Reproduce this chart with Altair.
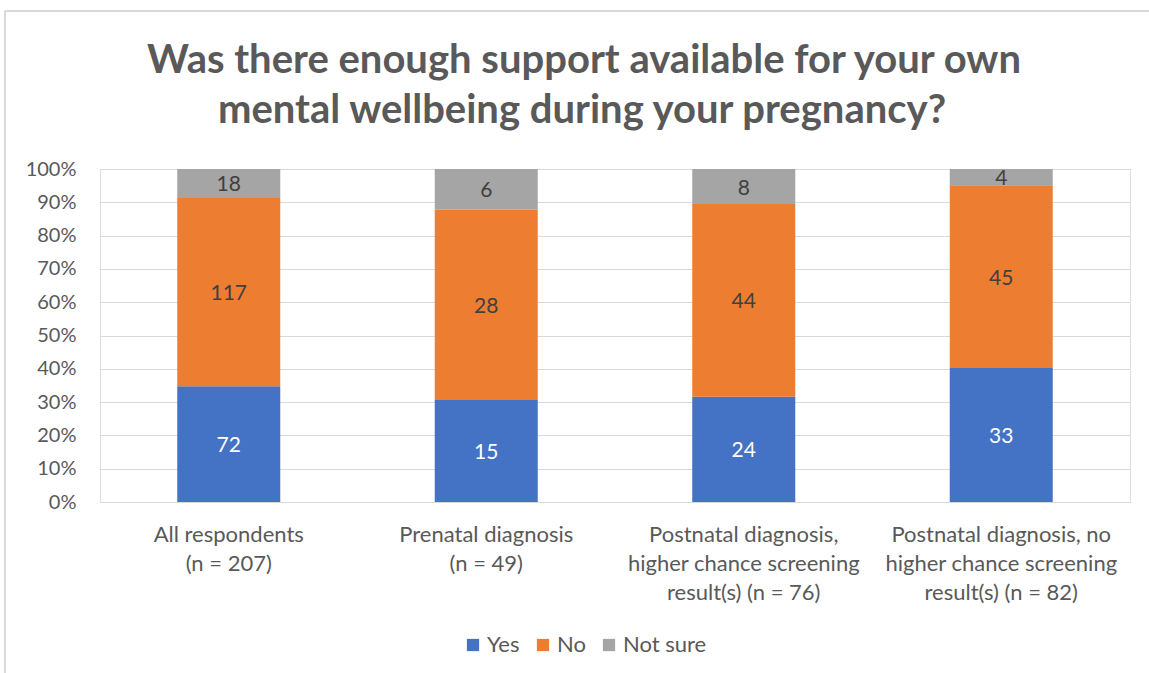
import altair as alt
import pandas as pd

categories = [
    "All respondents\n(n = 207)",
    "Prenatal diagnosis\n(n = 49)",
    "Postnatal diagnosis,\nhigher chance screening\nresult(s) (n = 76)",
    "Postnatal diagnosis, no\nhigher chance screening\nresult(s) (n = 82)",
]
responses = ["Yes", "No", "Not sure"]
yes_counts = [72, 15, 24, 33]
no_counts = [117, 28, 44, 45]
notsure_counts = [18, 6, 8, 4]
colors = ["#4472C4", "#ED7D31", "#A5A5A5"]
label_colors = ["#FFFFFF", "#404040", "#404040"]
title_lines = ["Was there enough support available for your own",
               "mental wellbeing during your pregnancy?"]
y_ticks = [0, 0.1, 0.2, 0.3, 0.4, 0.5, 0.6, 0.7, 0.8, 0.9, 1.0]

rows = []
for i, c in enumerate(categories):
    for j, (r, vals) in enumerate(zip(responses, [yes_counts, no_counts, notsure_counts])):
        rows.append({"category": c, "response": r, "count": vals[i], "order": j,
                     "tcolor": label_colors[j]})
df = pd.DataFrame(rows)

FONT = "Lato"
GREY = "#595959"

base = alt.Chart(df).transform_stack(
    stack="count", groupby=["category"], as_=["y0", "y1"],
    offset="normalize", sort=[alt.SortField("order", order="ascending")]
).transform_calculate(mid="(datum.y0 + datum.y1) / 2")

x_axis = alt.Axis(labelAngle=0, labelExpr="split(datum.label, '\\n')",
                  labelFontSize=22, labelColor=GREY, labelFont=FONT,
                  labelLineHeight=29, labelPadding=22, ticks=False,
                  domain=False, grid=False, labelLimit=400)
x_scale = alt.Scale(paddingInner=0.6, paddingOuter=0.3)
y_axis = alt.Axis(format="%", values=y_ticks,
                  labelFontSize=20, labelColor=GREY, labelFont=FONT,
                  labelPadding=24, ticks=False, domain=False,
                  labelOverlap=False,
                  gridColor="#D9D9D9", gridWidth=1)
y_scale = alt.Scale(domain=[0, 1], nice=False)

bars = base.mark_bar().encode(
    x=alt.X("category:N", sort=categories, title=None, scale=x_scale, axis=x_axis),
    y=alt.Y("y0:Q", title=None, scale=y_scale, axis=y_axis),
    y2="y1:Q",
    color=alt.Color("response:N", sort=responses,
                    scale=alt.Scale(domain=responses, range=colors),
                    legend=alt.Legend(title=None, orient="none", direction="horizontal",
                                      legendX=362, legendY=465,
                                      symbolType="square", symbolSize=150,
                                      symbolStrokeWidth=0, symbolOpacity=1,
                                      labelFontSize=22, labelColor=GREY, labelFont=FONT,
                                      columnPadding=12, labelOffset=3)),
)

labels = base.mark_text(fontSize=21, font=FONT, baseline="middle", dy=2).encode(
    x=alt.X("category:N", sort=categories, title=None, scale=x_scale, axis=x_axis),
    y=alt.Y("mid:Q", title=None, scale=y_scale, axis=y_axis),
    text=alt.Text("count:Q"),
    color=alt.Color("tcolor:N", scale=None, legend=None),
)

t1 = alt.Chart(pd.DataFrame({"t": [title_lines[0]]})).mark_text(
    fontSize=40, font=FONT, fontWeight="bold", color=GREY, baseline="middle", clip=False
).encode(x=alt.value(484), y=alt.value(-108), text="t:N")
t2 = alt.Chart(pd.DataFrame({"t": [title_lines[1]]})).mark_text(
    fontSize=40, font=FONT, fontWeight="bold", color=GREY, baseline="middle", clip=False
).encode(x=alt.value(482), y=alt.value(-58), text="t:N")

border_top = alt.Chart(df).mark_rule(color="#D9D9D9", strokeWidth=2, clip=False).encode(
    x=alt.value(-95), x2=alt.value(1060), y=alt.value(-158))
border_left = alt.Chart(df).mark_rule(color="#D9D9D9", strokeWidth=2, clip=False).encode(
    x=alt.value(-95), y=alt.value(-158), y2=alt.value(520))

chart = alt.layer(border_top, border_left, t1, t2, bars, labels).properties(
    width=1030, height=333,
    padding={"left": 100, "top": 169, "right": 19, "bottom": 171},
    autosize=alt.AutoSizeParams(type="none"),
).configure_view(strokeWidth=0, stroke="transparent").configure(background="white")

chart.save("out.html", embed_options={"renderer": "svg", "actions": False})
